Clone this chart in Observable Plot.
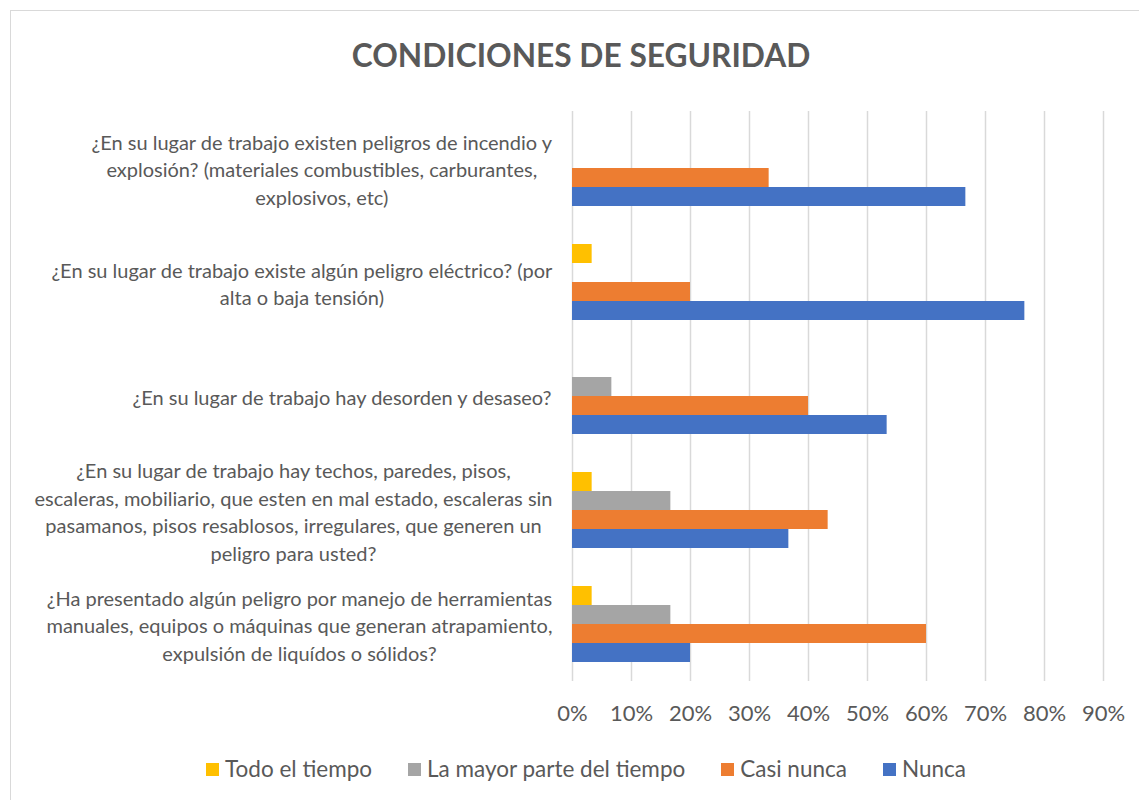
<!DOCTYPE html>
<html>
<head>
<meta charset="utf-8">
<script src="https://cdn.jsdelivr.net/npm/d3@7"></script>
<script src="https://cdn.jsdelivr.net/npm/@observablehq/plot@0.6"></script>
<style>
  html, body { margin: 0; padding: 0; background: #fff; overflow: hidden; width: 1139px; height: 800px; }
  body { font-family: Lato, "Open Sans", sans-serif; color: #595959; position: relative; }
  #frame { position: absolute; left: 10px; top: 10px; width: 1150px; height: 820px; border: 1.5px solid #d9d9d9; box-sizing: border-box; }
  #title { position: absolute; left: 10px; width: 1142px; top: 35px; text-align: center; font-weight: 700; font-size: 31.7px; line-height: 40px; color: #595959; }
  #chart { position: absolute; left: 0; top: 90px; }
  #legend { position: absolute; left: 10px; width: 1152px; top: 755px; display: flex; justify-content: center; gap: 36px; font-size: 22.5px; line-height: 28px; }
  .item { display: flex; align-items: center; gap: 6px; }
  .sw { width: 13px; height: 13px; display: inline-block; }
</style>
</head>
<body>
<div id="frame"></div>
<div id="title">CONDICIONES DE SEGURIDAD</div>
<div id="chart"></div>
<div id="legend"></div>
<script>
// ---- data ----
const questions = [
  "¿En su lugar de trabajo existen peligros de incendio y\nexplosión? (materiales combustibles, carburantes,\nexplosivos, etc)",
  "¿En su lugar de trabajo existe algún peligro eléctrico? (por\nalta o baja tensión)",
  "¿En su lugar de trabajo hay desorden y desaseo?",
  "¿En su lugar de trabajo hay techos, paredes, pisos,\nescaleras, mobiliario, que esten en mal estado, escaleras sin\npasamanos, pisos resablosos, irregulares, que generen un\npeligro para usted?",
  "¿Ha presentado algún peligro por manejo de herramientas\nmanuales, equipos o máquinas que generan atrapamiento,\nexpulsión de liquídos o sólidos?"
];
const seriesNames = ["Todo el tiempo", "La mayor parte del tiempo", "Casi nunca", "Nunca"];
const seriesColors = ["#FFC000", "#A5A5A5", "#ED7D31", "#4472C4"];
const todoElTiempo = [0, 3.33, 0, 3.33, 3.33];
const mayorParte = [0, 0, 6.67, 16.67, 16.67];
const casiNunca = [33.33, 20, 40, 43.33, 60];
const nunca = [66.67, 76.67, 53.33, 36.67, 20];
const xTicks = [0, 10, 20, 30, 40, 50, 60, 70, 80, 90];

// ---- table ----
const valuesBySeries = [todoElTiempo, mayorParte, casiNunca, nunca];
const rows = [];
questions.forEach((q, i) => {
  seriesNames.forEach((s, j) => rows.push({q, series: s, value: valuesBySeries[j][i]}));
});

const labelFont = "Lato";
const labelSize = 20;
const ctx = document.createElement("canvas").getContext("2d");
ctx.font = `${labelSize}px ${labelFont}`;
const maxW = q => d3.max(q.split("\n"), l => ctx.measureText(l).width);

const labelMarks = questions.map(q => Plot.text([q], {
  fy: d => d, text: d => d, frameAnchor: "left", textAnchor: "middle",
  dx: -(20 + maxW(q) / 2), fill: "#595959", fontSize: labelSize, lineHeight: 27.5 / labelSize
}));

const chart = Plot.plot({
  width: 1139,
  height: 643,
  marginLeft: 572,
  marginRight: 36,
  marginTop: 19,
  marginBottom: 50,
  style: {fontFamily: "Lato, sans-serif", color: "#595959", background: "transparent", overflow: "visible"},
  x: {domain: [0, 90], ticks: xTicks, tickFormat: d => d + "%", tickSize: 0, tickPadding: 24, label: null, axis: "bottom"},
  fy: {domain: questions, padding: 0, axis: null},
  y: {domain: seriesNames, paddingInner: 0, paddingOuter: 0.91, axis: null},
  color: {domain: seriesNames, range: seriesColors},
  marks: [
    Plot.ruleX(xTicks, {stroke: "#d9d9d9", strokeWidth: 1.5}),
    Plot.barX(rows, {x: "value", y: "series", fy: "q", fill: "series", insetTop: 0, insetBottom: 0}),
    ...labelMarks
  ]
});
chart.querySelectorAll("[aria-label='x-axis tick label'] text, g[aria-label='x-axis'] text").forEach(t => t.style.fontSize = "22px");
document.getElementById("chart").appendChild(chart);

// legend
const leg = document.getElementById("legend");
seriesNames.forEach((s, i) => {
  const it = document.createElement("div"); it.className = "item";
  const sw = document.createElement("span"); sw.className = "sw"; sw.style.background = seriesColors[i];
  const tx = document.createElement("span"); tx.textContent = s;
  it.appendChild(sw); it.appendChild(tx); leg.appendChild(it);
});
</script>
</body>
</html>
